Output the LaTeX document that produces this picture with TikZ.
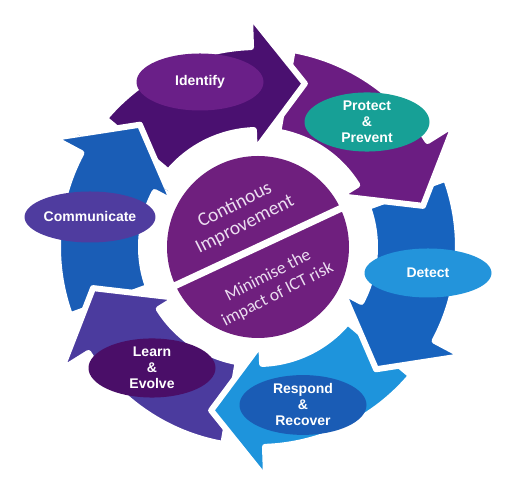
\documentclass[tikz,border=0pt]{standalone}
\usepackage{fontspec}
\setmainfont{Liberation Sans}
\newfontfamily\calib{Carlito}
\usetikzlibrary{shapes.geometric}
\definecolor{idA}{HTML}{4A1070}
\definecolor{idE}{HTML}{6A1F88}
\definecolor{prA}{HTML}{6B1D82}
\definecolor{prE}{HTML}{17A096}
\definecolor{deA}{HTML}{1763BE}
\definecolor{deE}{HTML}{2394DB}
\definecolor{reA}{HTML}{1E94DC}
\definecolor{reE}{HTML}{1A5CB5}
\definecolor{leA}{HTML}{4B3B9E}
\definecolor{leE}{HTML}{4A0E68}
\definecolor{coA}{HTML}{1A5DB6}
\definecolor{coE}{HTML}{4F3C9F}
\definecolor{ctr}{HTML}{6F1F7E}
\definecolor{ctrtxt}{HTML}{EBDDF0}
\newcommand\ringarrow[4]{%
  \path[fill=#4, draw=white, line width=6pt, line join=round]
    (#1:200pt) arc[start angle=#1, end angle=#2, radius=200pt]
    -- (#2:232pt) -- (#3:170pt) -- (#2:96pt) -- (#2:117pt)
    arc[start angle=#2, end angle=#1, radius=117pt] -- cycle;}
\tikzset{
  lbl/.style={ellipse, inner sep=0pt, text=white, align=center,
    font=\bfseries\fontsize{14}{16}\selectfont},
  ctrtext/.style={text=ctrtxt, align=center, rotate=27}
}
\begin{document}
\begin{tikzpicture}[x=1pt,y=1pt]
\useasboundingbox (0,0) rectangle (512,486);
\begin{scope}[shift={(258pt,239pt)}]
  \ringarrow{200}{152}{134}{coA}
  \ringarrow{-100}{-148}{-166}{leA}
  \ringarrow{-40}{-88}{-106}{reA}
  \ringarrow{20}{-28}{-46}{deA}
  \ringarrow{80}{32}{14}{prA}
  \ringarrow{140}{92}{74}{idA}
  \begin{scope}
    \clip (0,0) -- (120:260pt) arc[start angle=120, end angle=148, radius=260pt] -- cycle;
    \ringarrow{200}{152}{134}{coA}
  \end{scope}
  \fill[ctr] (0,0) circle[radius=91pt];
  \draw[white, line width=7pt] (205:96pt) -- (25:96pt);
\end{scope}
\node[ctrtext, font=\calib\fontsize{19.5}{22}\selectfont] (ci) at (240,271) {Continous\\Improvement};
\node[ctrtext, font=\calib\fontsize{17.5}{21}\selectfont] (mi) at (273,201) {Minimise the\\impact of ICT risk};
\node[lbl, fill=idE, minimum width=127pt, minimum height=57pt] (identify) at (200,404) {Identify};
\node[lbl, fill=prE, minimum width=125pt, minimum height=55pt] (protect) at (367,364) {Protect\\\&\\Prevent};
\node[lbl, fill=deE, minimum width=127pt, minimum height=49pt] (detect) at (428,213) {Detect};
\node[lbl, fill=reE, minimum width=127pt, minimum height=52pt] (respond) at (303,81) {Respond\\\&\\Recover};
\node[lbl, fill=leE, minimum width=127pt, minimum height=55pt] (learn) at (152,118) {Learn\\\&\\Evolve};
\node[lbl, fill=coE, minimum width=127pt, minimum height=51pt] (communicate) at (90,269) {Communicate};
\end{tikzpicture}
\end{document}
